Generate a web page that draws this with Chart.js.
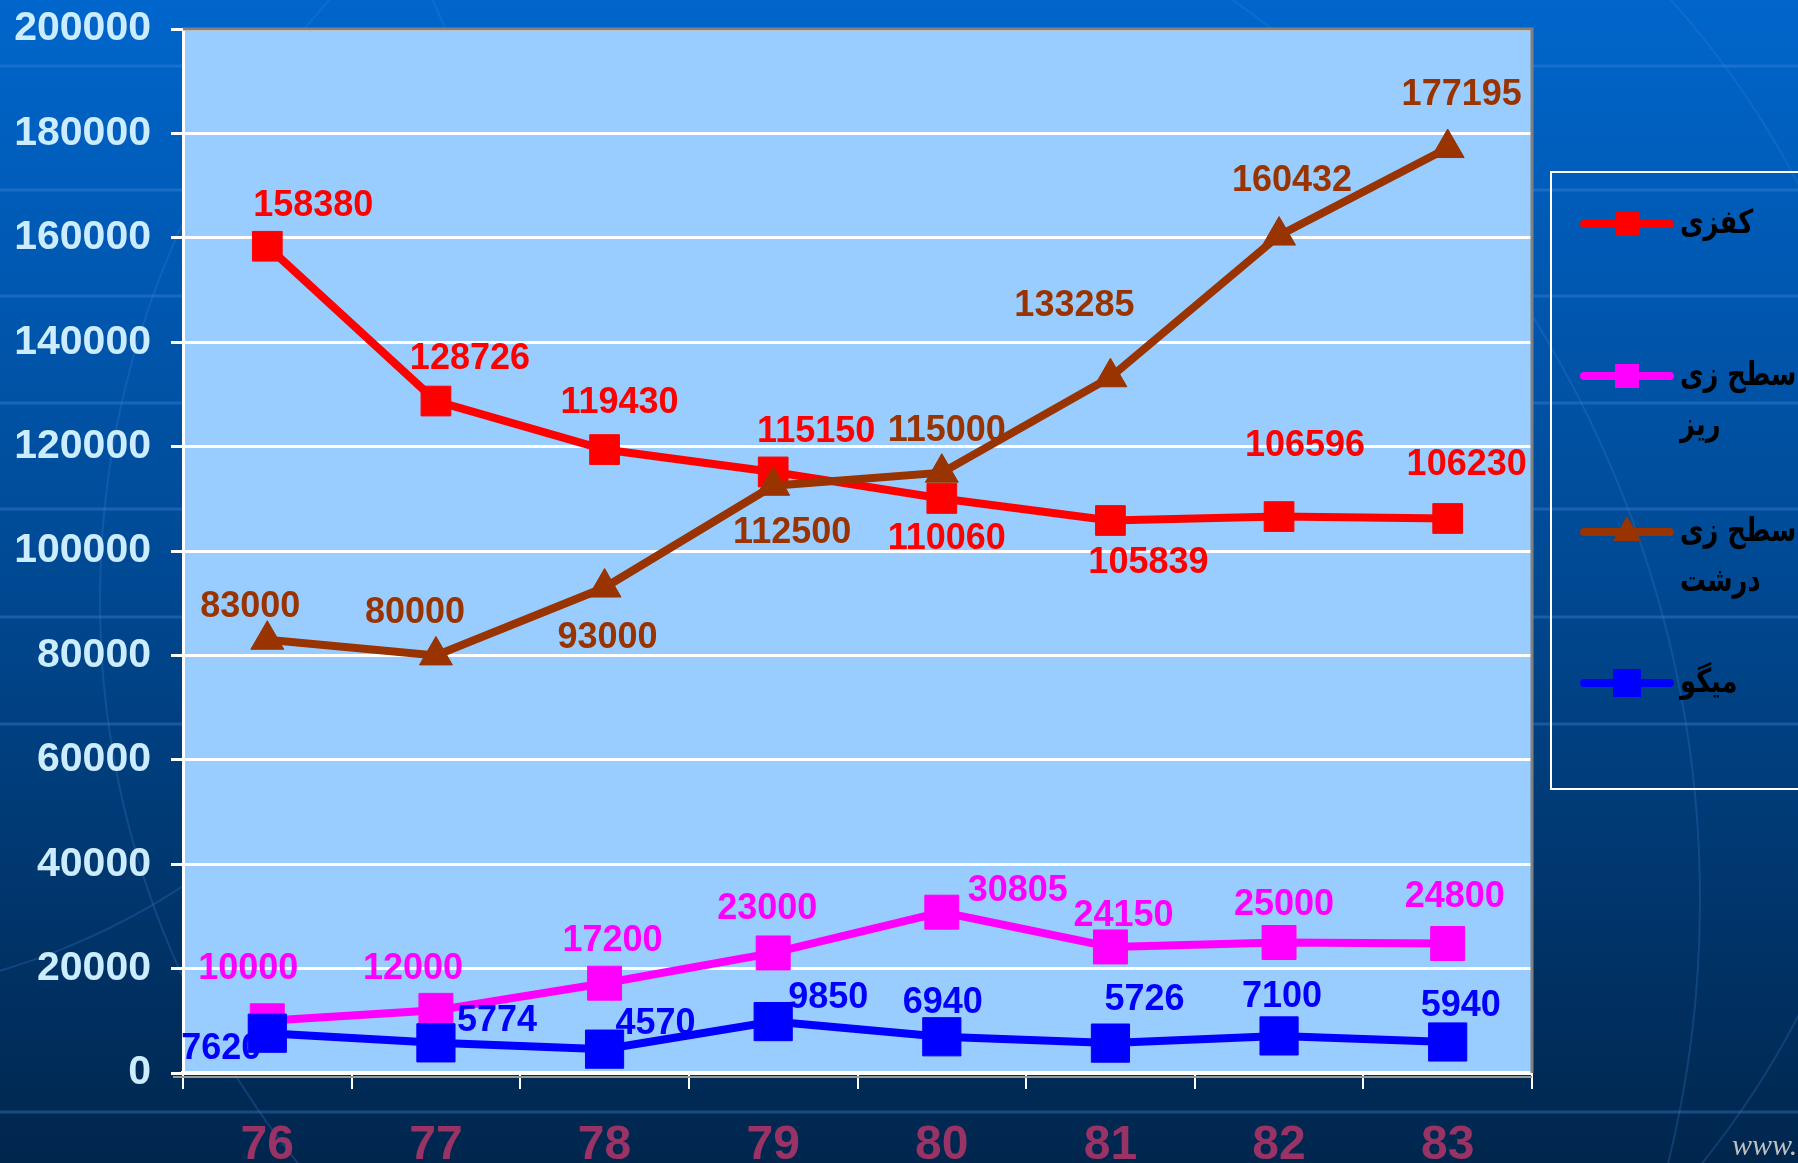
<!DOCTYPE html>
<html>
<head>
<meta charset="utf-8">
<script src="https://cdn.jsdelivr.net/npm/chart.js@4/dist/chart.umd.min.js"></script>
<style>
  html, body { margin: 0; padding: 0; background: #003366; }
  #wrap { width: 1798px; height: 1163px; }
</style>
</head>
<body>
<div id="wrap"><canvas id="chart" width="1798" height="1163"></canvas></div>
<script>
'use strict';

// years (Iranian calendar)
const years = ['76', '77', '78', '79', '80', '81', '82', '83'];

const kafzi = [158380, 128726, 119430, 115150, 110060, 105839, 106596, 106230];
const satheRiz = [10000, 12000, 17200, 23000, 30805, 24150, 25000, 24800];
const satheDorosht = [83000, 80000, 93000, 112500, 115000, 133285, 160432, 177195];
const meygu = [7620, 5774, 4570, 9850, 6940, 5726, 7100, 5940];

const yMin = 0;
const yMax = 200000;
const yStep = 20000;

const seriesNames = ['کفزی', 'سطح زی ریز', 'سطح زی درشت', 'میگو'];
const legendLines = [['کفزی'], ['سطح زی', 'ریز'], ['سطح زی', 'درشت'], ['میگو']];

// where each value label sits relative to its point (px)
const labelOffsets = [
  [[46, -40], [34, -42], [15, -46], [43, -40], [5, 41], [38, 43], [26, -70], [19, -53]],
  [[-19, -52], [-23, -41], [8, -42], [-6, -44], [76, -21], [13, -31], [5, -37], [7, -46]],
  [[-17, -33], [-21, -42], [3, 51], [19, 47], [5, -42], [-36, -71], [13, -54], [14, -53]],
  [[-46, 16], [61, -22], [51, -25], [55, -24], [1, -34], [34, -43], [3, -39], [13, -36]],
];

const NUM_FONT = '"Liberation Sans", Arial, sans-serif';

const backgroundPlugin = {
  id: 'slideBackground',
  beforeDraw: function (chart) {
    const ctx = chart.ctx;
    const w = chart.width;
    const h = chart.height;
    ctx.save();
    const g = ctx.createLinearGradient(0, 0, 0, h);
    g.addColorStop(0, '#0066cc');
    g.addColorStop(0.45, '#004c99');
    g.addColorStop(1, '#00264d');
    ctx.fillStyle = g;
    ctx.fillRect(0, 0, w, h);

    // faint stripes of the slide template
    ctx.strokeStyle = 'rgba(70, 140, 220, 0.35)';
    ctx.lineWidth = 3;
    [66, 190, 296, 403, 509, 617, 724, 1112].forEach(function (y) {
      ctx.beginPath();
      ctx.moveTo(0, y);
      ctx.lineTo(w, y);
      ctx.stroke();
    });

    // faint globe curves
    ctx.strokeStyle = 'rgba(60, 130, 210, 0.25)';
    ctx.lineWidth = 2;
    [[-200, 300, 700], [1000, 600, 900], [600, 900, 1100]].forEach(function (c) {
      ctx.beginPath();
      ctx.arc(c[0], c[1], c[2], 0, Math.PI * 2);
      ctx.stroke();
    });

    const a = chart.chartArea;
    ctx.fillStyle = '#99ccff';
    ctx.fillRect(a.left, a.top, a.right - a.left, a.bottom - a.top);
    ctx.restore();
  },
  beforeDatasetsDraw: function (chart) {
    const ctx = chart.ctx;
    const a = chart.chartArea;
    ctx.save();
    ctx.strokeStyle = '#808080';
    ctx.lineWidth = 3;
    ctx.beginPath();
    ctx.moveTo(a.left, a.top);
    ctx.lineTo(a.right, a.top);
    ctx.lineTo(a.right, a.bottom);
    ctx.stroke();
    ctx.strokeStyle = '#9a9a9a';
    ctx.lineWidth = 2;
    ctx.beginPath();
    ctx.moveTo(a.left - 10, a.bottom + 4);
    ctx.lineTo(a.right, a.bottom + 4);
    ctx.stroke();
    ctx.restore();
  },
};

const valueLabelPlugin = {
  id: 'valueLabels',
  afterDatasetsDraw: function (chart) {
    const ctx = chart.ctx;
    ctx.save();
    ctx.font = 'bold 36px ' + NUM_FONT;
    ctx.textAlign = 'center';
    ctx.textBaseline = 'middle';
    chart.data.datasets.forEach(function (ds, i) {
      const meta = chart.getDatasetMeta(i);
      ctx.fillStyle = ds.borderColor;
      meta.data.forEach(function (pt, j) {
        const off = labelOffsets[i][j];
        ctx.fillText(String(ds.data[j]), pt.x + off[0], pt.y + off[1]);
      });
    });
    ctx.restore();
  },
};

const legendPlugin = {
  id: 'boxLegend',
  afterDraw: function (chart) {
    const ctx = chart.ctx;
    const rows = [224, 376, 532, 683];
    ctx.save();
    ctx.strokeStyle = '#ffffff';
    ctx.lineWidth = 2;
    ctx.strokeRect(1551, 172, 400, 617);

    chart.data.datasets.forEach(function (ds, i) {
      const y = rows[i];
      ctx.strokeStyle = ds.borderColor;
      ctx.lineWidth = 8;
      ctx.lineCap = 'round';
      ctx.beginPath();
      ctx.moveTo(1584, y);
      ctx.lineTo(1670, y);
      ctx.stroke();
      ctx.fillStyle = ds.borderColor;
      if (ds.pointStyle === 'triangle') {
        ctx.beginPath();
        ctx.moveTo(1627, y - 16);
        ctx.lineTo(1641, y + 9);
        ctx.lineTo(1613, y + 9);
        ctx.closePath();
        ctx.fill();
      } else {
        const s = i === 3 ? 28 : 24;
        ctx.fillRect(1627 - s / 2, y - s / 2, s, s);
      }
      ctx.fillStyle = '#000000';
      ctx.font = 'bold 33px "DejaVu Sans", sans-serif';
      ctx.textAlign = 'left';
      ctx.textBaseline = 'middle';
      legendLines[i].forEach(function (line, k) {
        ctx.save();
        ctx.translate(1680, y + k * 50);
        ctx.scale(0.78, 1);
        ctx.fillText(line, 0, 0);
        ctx.restore();
      });
    });

    ctx.fillStyle = '#bfbfbf';
    ctx.font = 'italic 30px "Liberation Serif", serif';
    ctx.fillText('www.iran', 1732, 1147);
    ctx.restore();
  },
};

function makeSeries(name, values, color, style, radius, order) {
  return {
    label: name,
    data: values,
    borderColor: color,
    backgroundColor: color,
    borderWidth: 8,
    tension: 0,
    pointStyle: style,
    pointRadius: radius,
    pointBorderWidth: 1,
    pointBackgroundColor: color,
    pointBorderColor: color,
    order: order,
    clip: false,
  };
}

const ctx = document.getElementById('chart').getContext('2d');
new Chart(ctx, {
  type: 'line',
  data: {
    labels: years,
    datasets: [
      makeSeries(seriesNames[0], kafzi, '#ff0000', 'rect', 21, 4),
      makeSeries(seriesNames[1], satheRiz, '#ff00ff', 'rect', 24, 3),
      makeSeries(seriesNames[2], satheDorosht, '#993300', 'triangle', 19, 2),
      makeSeries(seriesNames[3], meygu, '#0000ff', 'rect', 27, 1),
    ],
  },
  options: {
    responsive: false,
    animation: false,
    devicePixelRatio: 1,
    layout: { padding: { top: 29, right: 266, left: 0, bottom: 0 } },
    plugins: {
      legend: { display: false },
      tooltip: { enabled: false },
    },
    scales: {
      x: {
        type: 'category',
        offset: true,
        grid: {
          offset: true,
          drawOnChartArea: false,
          drawTicks: true,
          tickLength: 16,
          color: '#ffffff',
          lineWidth: 2,
        },
        border: { display: true, color: '#ffffff', width: 4 },
        ticks: {
          color: '#993366',
          padding: 28,
          font: { family: NUM_FONT, size: 48, weight: 'bold' },
        },
        afterFit: function (scale) {
          scale.height = 90;
          scale.paddingLeft = 0;
          scale.paddingRight = 0;
        },
      },
      y: {
        min: yMin,
        max: yMax,
        ticks: {
          stepSize: yStep,
          color: '#ccecff',
          padding: 20,
          font: { family: NUM_FONT, size: 41, weight: 'bold' },
          callback: function (value) { return String(value); },
        },
        grid: {
          color: '#ffffff',
          lineWidth: 3,
          tickLength: 12,
        },
        border: { display: true, color: '#ffffff', width: 3 },
        afterFit: function (scale) {
          scale.width = 183;
          scale.paddingTop = 0;
          scale.paddingBottom = 0;
        },
      },
    },
  },
  plugins: [backgroundPlugin, valueLabelPlugin, legendPlugin],
});
</script>
</body>
</html>
